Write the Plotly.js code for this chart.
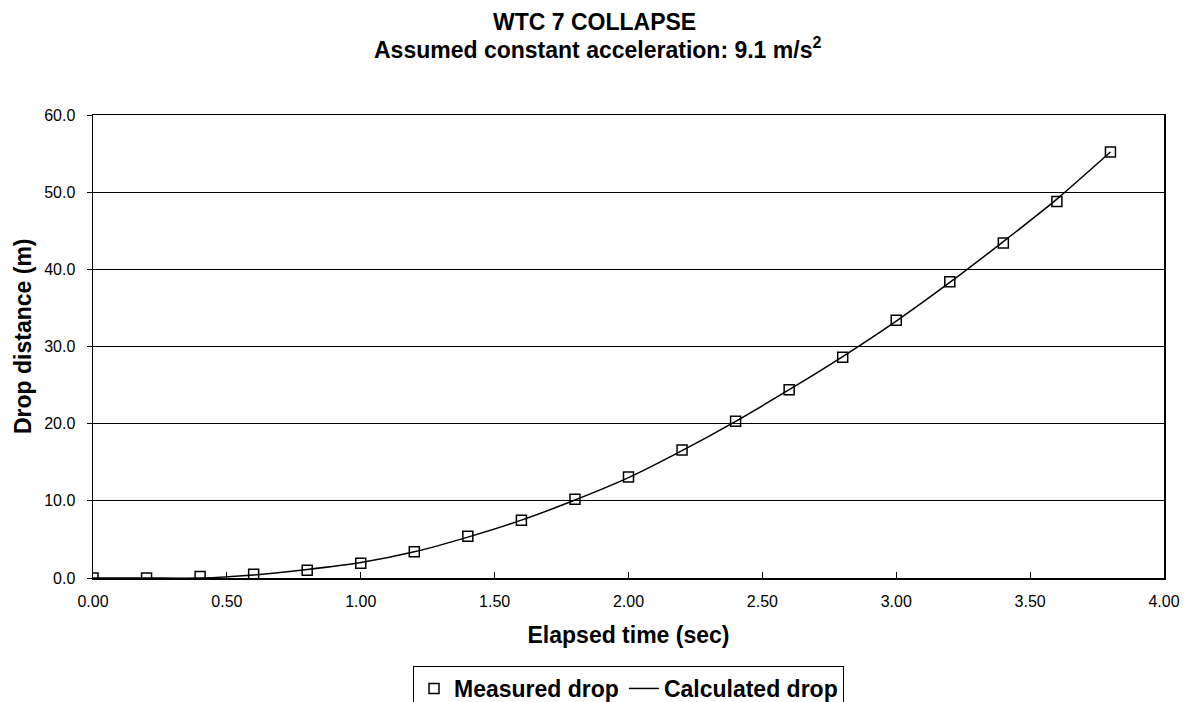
<!DOCTYPE html>
<html>
<head>
<meta charset="utf-8">
<script src="https://cdn.plot.ly/plotly-3.0.1.min.js"></script>
<style>html,body{margin:0;padding:0;background:#fff;}#chart{width:1186px;height:702px;}</style>
</head>
<body>
<div id="chart"></div>
<script>
const timeSec = [0.0,0.2,0.4,0.6,0.8,1.0,1.2,1.4,1.6,1.8,2.0,2.2,2.4,2.6,2.8,3.0,3.2,3.4,3.6,3.8];
const measuredDrop = [0.0,0.0,0.2,0.5,1.0,1.9,3.4,5.4,7.5,10.2,13.1,16.6,20.3,24.4,28.6,33.4,38.4,43.4,48.8,55.2];
const calculatedDrop = [0.0,0.0,0.0,0.4,1.1,2.0,3.4,5.3,7.5,10.1,13.0,16.5,20.3,24.4,28.7,33.3,38.3,43.6,49.1,55.2];
const xTicks = [0,0.5,1,1.5,2,2.5,3,3.5,4];
const yTicks = [0,10,20,30,40,50,60];
const titleLines = ["WTC 7 COLLAPSE", "Assumed constant acceleration: 9.1 m/s<sup>2</sup>"];
const yTitle = "Drop distance (m)";

const font = "Liberation Sans, Arial, sans-serif";

const traces = [
  {
    x: timeSec, y: calculatedDrop, name: "Calculated drop",
    mode: "lines", type: "scatter",
    line: {color: "#000", width: 1.5, shape: "spline", smoothing: 0.6},
    showlegend: true
  },
  {
    x: timeSec, y: measuredDrop, name: "Measured drop",
    mode: "markers", type: "scatter",
    marker: {symbol: "square-open", size: 10, color: "#000", line: {color: "#000", width: 1.5}},
    showlegend: true
  }
];

const plotLeft = 93, plotW = 1071, plotTop = 115, plotH = 463;
function paperY(px) { return 1 + (plotTop - px) / plotH; }
function paperX(px) { return (px - plotLeft) / plotW; }

const layout = {
  width: 1186, height: 702,
  paper_bgcolor: "#fff", plot_bgcolor: "#fff",
  margin: {l: 93, r: 22, t: 115, b: 124, autoexpand: false},
  font: {family: font, color: "#000"},
  annotations: [
    {text: "<b>" + titleLines[0] + "</b>", xref: "paper", x: paperX(594), xanchor: "center",
     yref: "paper", y: paperY(22), yanchor: "middle", showarrow: false,
     font: {family: font, size: 23, color: "#000"}},
    {text: "<b>" + titleLines[1] + "</b>", xref: "paper", x: paperX(597), xanchor: "center",
     yref: "paper", y: paperY(48), yanchor: "middle", showarrow: false,
     font: {family: font, size: 23, color: "#000"}},
    {text: "<b>" + yTitle + "</b>", xref: "paper", x: paperX(23), xanchor: "center",
     yref: "paper", y: paperY(336), yanchor: "middle", showarrow: false, textangle: -90,
     font: {family: font, size: 23, color: "#000"}}
  ],
  xaxis: {
    range: [0, 4], tickvals: xTicks, tickformat: ".2f",
    ticks: "inside", ticklen: 6, tickcolor: "#000", tickwidth: 1,
    ticklabelstandoff: 8,
    showgrid: false, zeroline: false, automargin: false,
    showline: true, linecolor: "#000", linewidth: 1.5, mirror: true,
    tickfont: {family: font, size: 16, color: "#000"},
    title: {text: "<b>Elapsed time (sec)</b>", font: {family: font, size: 23, color: "#000"}, standoff: 18}
  },
  yaxis: {
    range: [0, 60], tickvals: yTicks, tickformat: ".1f",
    ticks: "outside", ticklen: 5, tickcolor: "#000", tickwidth: 1,
    ticklabelstandoff: 8,
    showgrid: true, gridcolor: "#000", gridwidth: 1, zeroline: false, automargin: false,
    showline: true, linecolor: "#000", linewidth: 1.5, mirror: true,
    tickfont: {family: font, size: 16, color: "#000"}
  },
  legend: {
    orientation: "h", x: 0.5, xref: "paper", xanchor: "center",
    y: 1 - 666/702, yref: "container", yanchor: "top",
    bordercolor: "#000", borderwidth: 1, bgcolor: "#fff",
    font: {family: font, size: 23, color: "#000", weight: "bold"},
    traceorder: "reversed"
  }
};

Plotly.newPlot("chart", traces, layout, {displayModeBar: false, staticPlot: true});
</script>
</body>
</html>
